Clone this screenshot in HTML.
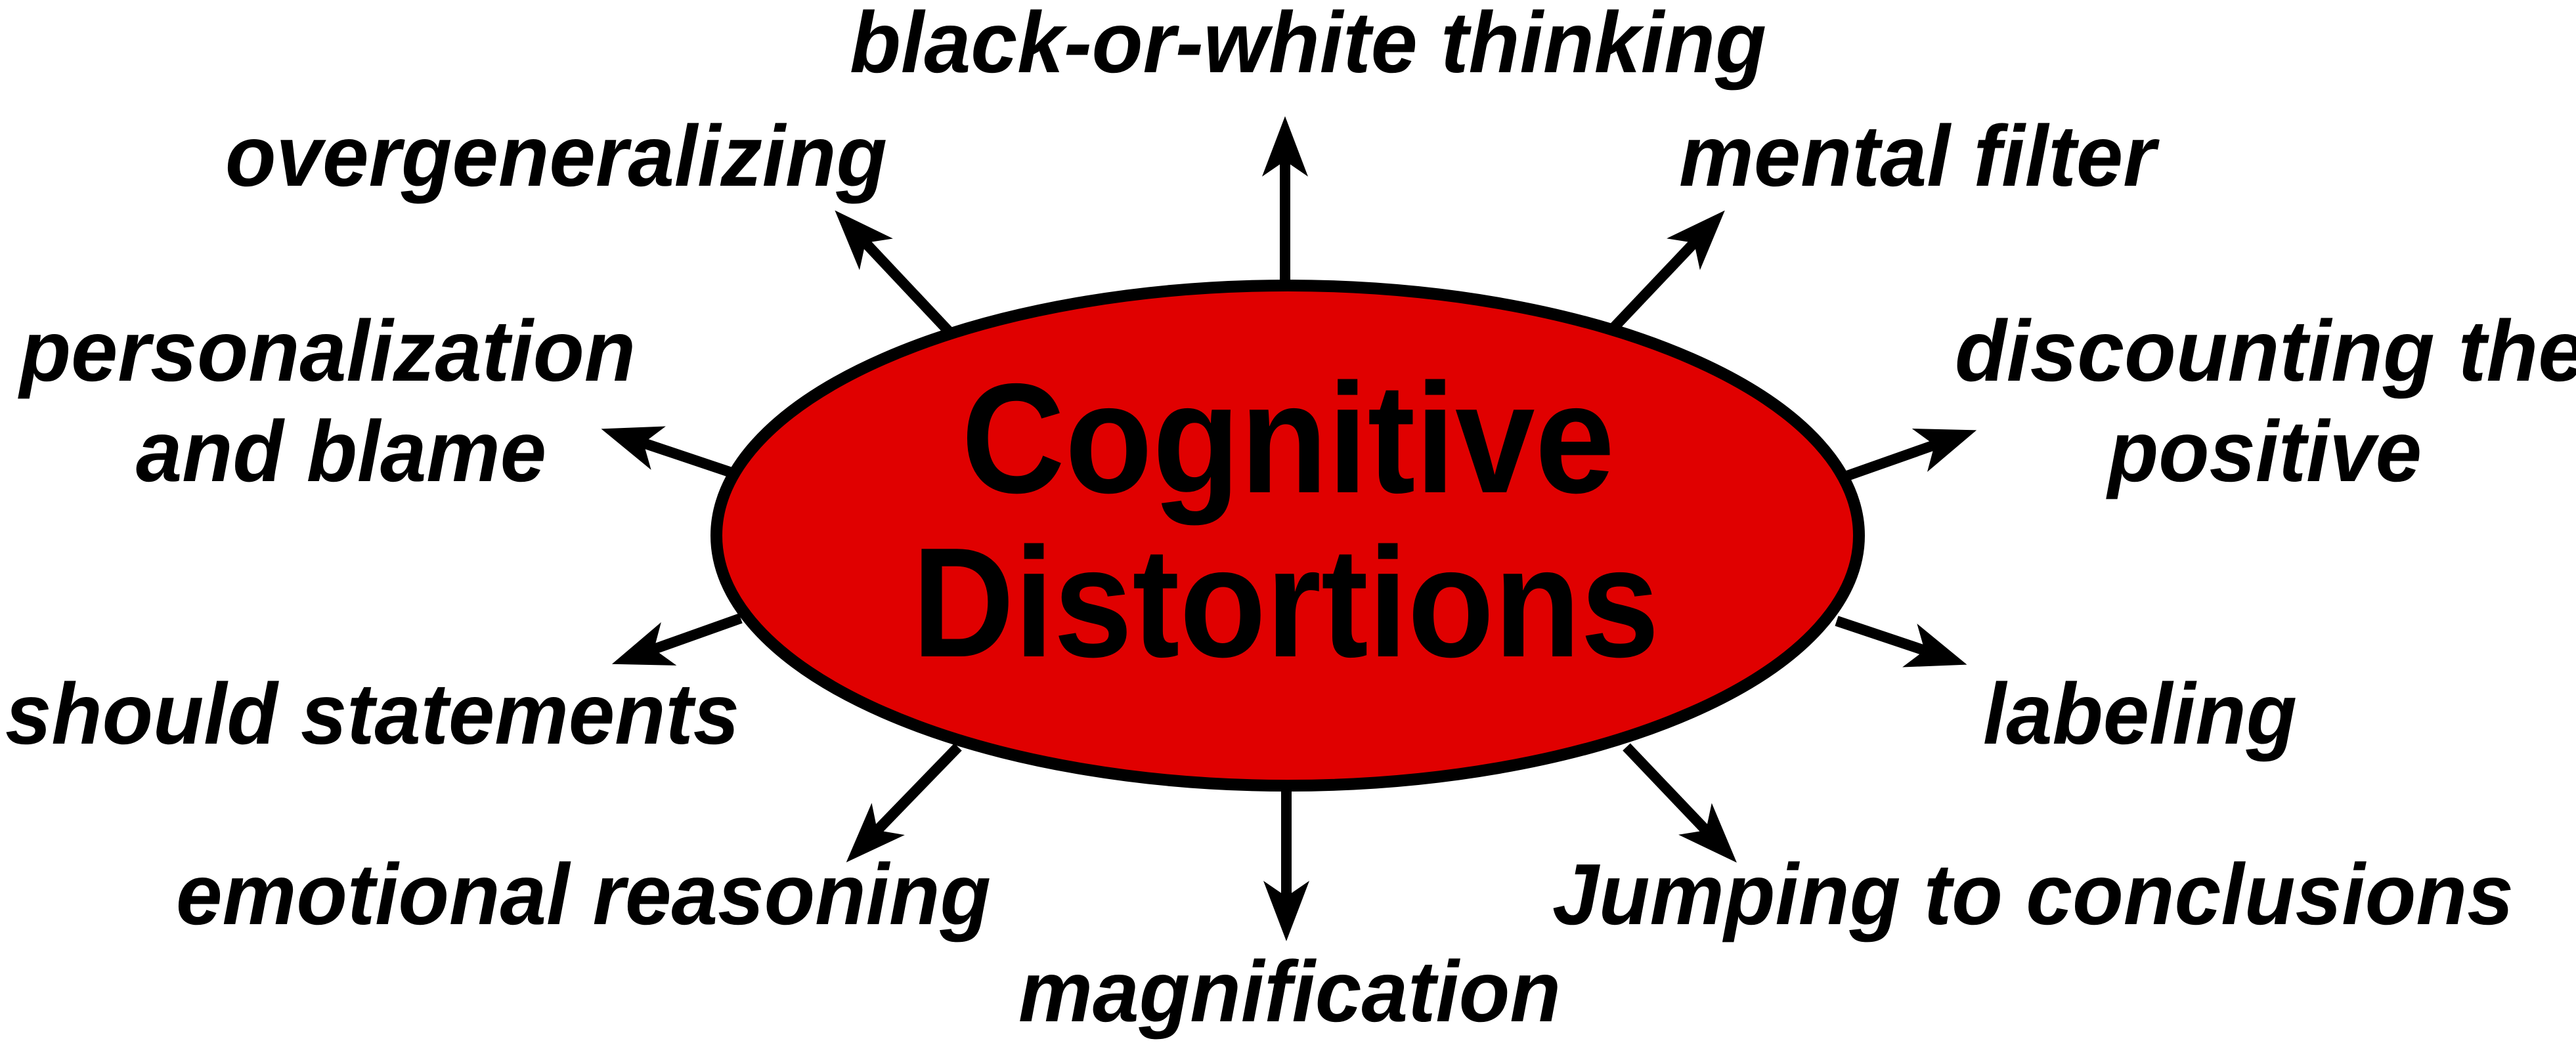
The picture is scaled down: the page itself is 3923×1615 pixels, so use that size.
<!DOCTYPE html>
<html><head><meta charset="utf-8"><style>
html,body{margin:0;padding:0;background:#fff;}
svg{display:block;}
.l{font-family:"Liberation Sans",Arial,sans-serif;font-weight:bold;font-style:italic;font-size:132px;fill:#000;}
.c{font-family:"Liberation Sans",Arial,sans-serif;font-weight:bold;font-size:238px;fill:#000;}
</style></head><body>
<svg width="3923" height="1615" viewBox="0 0 3923 1615" xmlns="http://www.w3.org/2000/svg">
<defs>
<marker id="a" markerUnits="userSpaceOnUse" viewBox="-30 -45 110 90" markerWidth="110" markerHeight="90" refX="0" refY="0" orient="auto">
<path d="M-24,-35 L68,0 L-24,35 L0,0 Z" fill="#000"/>
</marker>
</defs>
<g stroke="#000" stroke-width="16" fill="none" marker-end="url(#a)">
<line x1="1957" y1="435" x2="1957" y2="245"/>
<line x1="1445" y1="505" x2="1318" y2="370"/>
<line x1="2453" y1="504" x2="2580" y2="370"/>
<line x1="1117" y1="721" x2="980" y2="675"/>
<line x1="1128" y1="942" x2="996" y2="989"/>
<line x1="2810" y1="726" x2="2946" y2="678"/>
<line x1="2797" y1="946" x2="2931" y2="991"/>
<line x1="1459" y1="1138" x2="1336" y2="1265"/>
<line x1="2477" y1="1138" x2="2598" y2="1265"/>
<line x1="1959" y1="1196" x2="1959" y2="1366"/>
</g>
<ellipse cx="1961" cy="816" rx="870" ry="381" fill="#e00000" stroke="#000" stroke-width="18"/>
<text class="c" x="1464" y="750" textLength="995" lengthAdjust="spacingAndGlyphs">Cognitive</text>
<text class="c" x="1389" y="1000" textLength="1138" lengthAdjust="spacingAndGlyphs">Distortions</text>
<text class="l" x="1294" y="110" textLength="1396" lengthAdjust="spacingAndGlyphs">black-or-white thinking</text>
<text class="l" x="343" y="283" textLength="1008" lengthAdjust="spacingAndGlyphs">overgeneralizing</text>
<text class="l" x="2557" y="283" textLength="726" lengthAdjust="spacingAndGlyphs">mental filter</text>
<text class="l" x="30" y="580" textLength="938" lengthAdjust="spacingAndGlyphs">personalization</text>
<text class="l" x="207" y="733" textLength="625" lengthAdjust="spacingAndGlyphs">and blame</text>
<text class="l" x="2977" y="580" textLength="960" lengthAdjust="spacingAndGlyphs">discounting the</text>
<text class="l" x="3210" y="733" textLength="478" lengthAdjust="spacingAndGlyphs">positive</text>
<text class="l" x="8" y="1133" textLength="1118" lengthAdjust="spacingAndGlyphs">should statements</text>
<text class="l" x="3020" y="1133" textLength="478" lengthAdjust="spacingAndGlyphs">labeling</text>
<text class="l" x="268" y="1408" textLength="1241" lengthAdjust="spacingAndGlyphs">emotional reasoning</text>
<text class="l" x="2364" y="1408" textLength="1464" lengthAdjust="spacingAndGlyphs">Jumping to conclusions</text>
<text class="l" x="1551" y="1556" textLength="826" lengthAdjust="spacingAndGlyphs">magnification</text>
</svg>
</body></html>
